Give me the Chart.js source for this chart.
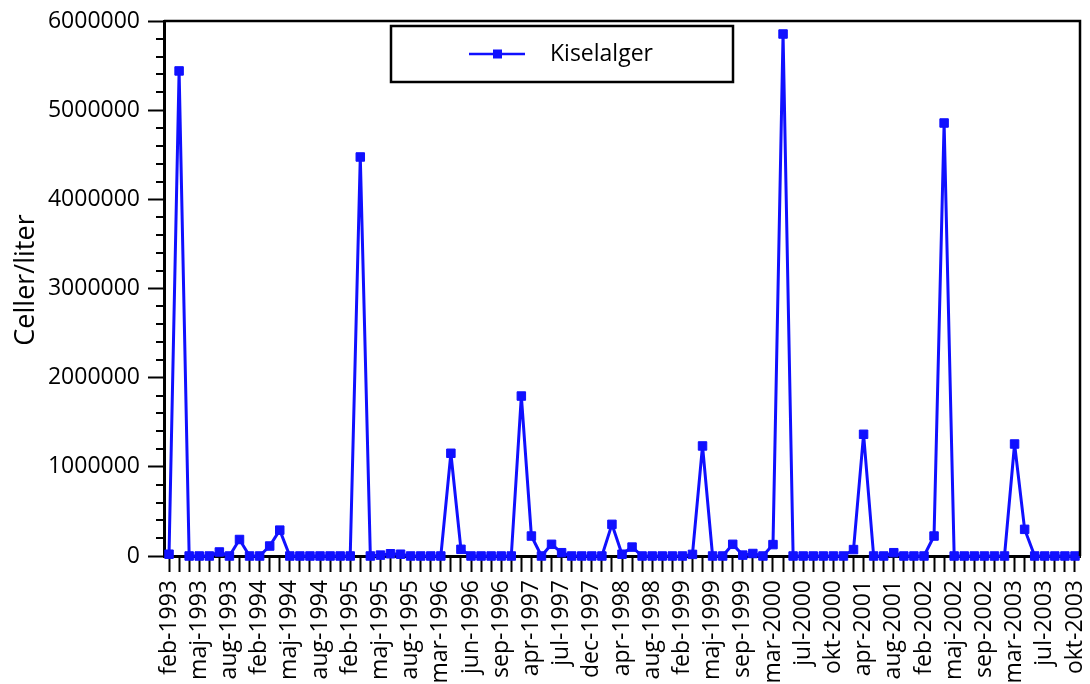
<!DOCTYPE html>
<html>
<head>
<meta charset="utf-8">
<script src="https://cdn.jsdelivr.net/npm/chart.js@4"></script>
<style>
  html, body { margin: 0; padding: 0; background: #ffffff; }
  #wrap { width: 1090px; height: 684px; }
</style>
</head>
<body>
<div id="wrap"><canvas id="chart" width="1090" height="684"></canvas></div>
<script>
// Sampling dates (every third one is printed on the axis)
const categories = [
  'feb-1993','mar-1993','apr-1993','maj-1993','jun-1993','jul-1993','aug-1993','sep-1993','okt-1993',
  'feb-1994','mar-1994','apr-1994','maj-1994','jun-1994','jul-1994','aug-1994','sep-1994','okt-1994',
  'feb-1995','mar-1995','apr-1995','maj-1995','jun-1995','jul-1995','aug-1995','sep-1995','okt-1995',
  'mar-1996','apr-1996','maj-1996','jun-1996','jul-1996','aug-1996','sep-1996','okt-1996','mar-1997',
  'apr-1997','maj-1997','jun-1997','jul-1997','aug-1997','sep-1997','dec-1997','feb-1998','mar-1998',
  'apr-1998','maj-1998','jun-1998','aug-1998','sep-1998','okt-1998','feb-1999','mar-1999','apr-1999',
  'maj-1999','jun-1999','aug-1999','sep-1999','okt-1999','feb-2000','mar-2000','apr-2000','maj-2000',
  'jul-2000','aug-2000','sep-2000','okt-2000','nov-2000','mar-2001','apr-2001','maj-2001','jun-2001',
  'aug-2001','sep-2001','okt-2001','feb-2002','mar-2002','apr-2002','maj-2002','jun-2002','aug-2002',
  'sep-2002','okt-2002','feb-2003','mar-2003','apr-2003','maj-2003','jul-2003','aug-2003','sep-2003',
  'okt-2003'
];

// Diatom counts, cells per litre
const kiselalger = [
  20000, 5440000, 0, 0, 0, 45000, 0, 185000, 0,
  0, 112000, 290000, 0, 0, 0, 0, 0, 0,
  0, 4475000, 0, 10000, 25000, 20000, 0, 0, 0,
  0, 1152000, 75000, 0, 0, 0, 0, 0, 1794000,
  224000, 0, 131000, 37000, 0, 0, 0, 0, 355000,
  20000, 100000, 0, 0, 0, 0, 0, 18000, 1234000,
  0, 0, 131000, 10000, 28000, 0, 128000, 5854000, 0,
  0, 0, 0, 0, 0, 72000, 1365000, 0, 0,
  37000, 0, 0, 0, 224000, 4856000, 0, 0, 0,
  0, 0, 0, 1256000, 299000, 0, 0, 0, 0,
  0
];

const seriesName = 'Kiselalger';
const yAxisTitle = 'Celler/liter';
const yMin = 0;
const yMax = 6000000;
const yMajorStep = 1000000;
const yMinorStep = 200000;
const xLabelEvery = 3;

const FONT = "'Open Sans', 'Liberation Sans', sans-serif";
const BLUE = '#1010ff';

// Box around the plot (top and right edges) plus short minor ticks on the value axis
const framePlugin = {
  id: 'frame',
  afterDraw(chart) {
    const { ctx, chartArea: a, scales: { y } } = chart;
    ctx.save();
    ctx.strokeStyle = '#000';
    ctx.lineWidth = 2.5;
    ctx.beginPath();
    ctx.moveTo(a.left, a.top);
    ctx.lineTo(a.right, a.top);
    ctx.lineTo(a.right, a.bottom);
    ctx.stroke();
    ctx.lineWidth = 2;
    ctx.beginPath();
    for (let v = yMin; v <= yMax; v += yMinorStep) {
      if (v % yMajorStep === 0) continue;
      const py = Math.round(y.getPixelForValue(v));
      ctx.moveTo(a.left - 8, py);
      ctx.lineTo(a.left, py);
    }
    ctx.stroke();
    ctx.restore();
  }
};

// Rotated value-axis title
const yTitlePlugin = {
  id: 'yTitle',
  afterDraw(chart) {
    const { ctx } = chart;
    ctx.save();
    ctx.translate(26, 280);
    ctx.rotate(-Math.PI / 2);
    ctx.font = '27px ' + FONT;
    ctx.fillStyle = '#000';
    ctx.textAlign = 'center';
    ctx.textBaseline = 'middle';
    ctx.fillText(yAxisTitle, 0, 0);
    ctx.restore();
  }
};

// Boxed legend inside the plot: line sample with square marker and series name
const legendBoxPlugin = {
  id: 'legendBox',
  afterDraw(chart) {
    const { ctx } = chart;
    const ds = chart.data.datasets[0];
    const bx = 391, by = 26, bw = 342, bh = 56;
    const cy = by + bh / 2;
    ctx.save();
    ctx.fillStyle = '#fff';
    ctx.fillRect(bx, by, bw, bh);
    ctx.strokeStyle = '#000';
    ctx.lineWidth = 2.5;
    ctx.strokeRect(bx, by, bw, bh);
    ctx.strokeStyle = ds.borderColor;
    ctx.lineWidth = 2.5;
    ctx.beginPath();
    ctx.moveTo(469, cy);
    ctx.lineTo(525, cy);
    ctx.stroke();
    ctx.fillStyle = ds.pointBackgroundColor;
    ctx.fillRect(493, cy - 4.5, 9, 9);
    ctx.fillStyle = '#000';
    ctx.font = '23px ' + FONT;
    ctx.textAlign = 'left';
    ctx.textBaseline = 'middle';
    ctx.fillText(ds.label, 550, cy);
    ctx.restore();
  }
};

new Chart(document.getElementById('chart'), {
  type: 'line',
  data: {
    labels: categories,
    datasets: [{
      label: seriesName,
      data: kiselalger,
      borderColor: BLUE,
      backgroundColor: BLUE,
      pointBackgroundColor: BLUE,
      pointBorderColor: BLUE,
      borderWidth: 3,
      borderJoinStyle: 'round',
      pointStyle: 'rect',
      pointRadius: 6,
      pointBorderWidth: 1,
      tension: 0,
      fill: false,
      clip: false
    }]
  },
  options: {
    responsive: false,
    devicePixelRatio: 1,
    animation: false,
    events: [],
    layout: { padding: { top: 21, right: 10, bottom: 0, left: 0 } },
    plugins: {
      legend: { display: false },
      tooltip: { enabled: false }
    },
    scales: {
      x: {
        type: 'category',
        offset: true,
        grid: {
          display: true,
          drawOnChartArea: false,
          drawTicks: true,
          tickLength: 16,
          tickWidth: 2,
          tickColor: '#000',
          offset: false
        },
        border: { display: true, color: '#000', width: 3 },
        ticks: {
          autoSkip: false,
          minRotation: 90,
          maxRotation: 90,
          padding: 8,
          color: '#000',
          font: { family: FONT, size: 23 },
          callback: (value, index) => (index % xLabelEvery === 0 ? categories[index] : '')
        },
        afterFit(scale) {
          scale.height = 128;
          scale.paddingLeft = 0;
          scale.paddingRight = 0;
        }
      },
      y: {
        min: yMin,
        max: yMax,
        grid: {
          display: true,
          drawOnChartArea: false,
          drawTicks: true,
          tickLength: 16,
          tickWidth: 2,
          tickColor: '#000'
        },
        border: { display: true, color: '#000', width: 3 },
        ticks: {
          stepSize: yMajorStep,
          padding: 8,
          color: '#000',
          font: { family: FONT, size: 23 },
          callback: (value) => String(value)
        },
        afterFit(scale) {
          scale.width = 164;
          scale.paddingTop = 0;
          scale.paddingBottom = 0;
        }
      }
    }
  },
  plugins: [framePlugin, yTitlePlugin, legendBoxPlugin]
});
</script>
</body>
</html>
